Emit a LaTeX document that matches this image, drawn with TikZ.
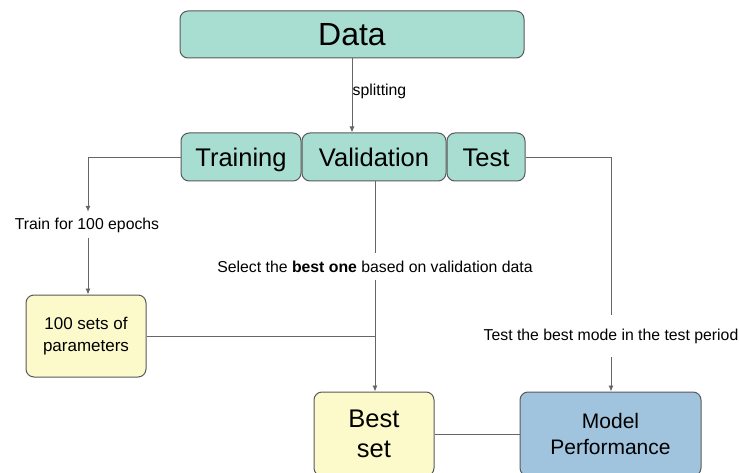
\documentclass[tikz,border=0pt]{standalone}
\usepackage{fontspec}
\setmainfont{Liberation Sans}
\usetikzlibrary{arrows.meta}
\definecolor{tealfill}{HTML}{A8DDD2}
\definecolor{paleyellow}{HTML}{FCF9CA}
\definecolor{paleblue}{HTML}{A0C4DD}
\definecolor{edge}{HTML}{595959}
\definecolor{wire}{HTML}{666666}
\tikzset{
  box/.style={draw=edge, line width=1pt, rounded corners=8pt, inner sep=0pt, align=center},
  tealbox/.style={box, fill=tealfill},
  rowbox/.style={tealbox, minimum height=48, text height=18.3, text depth=0, font=\fontsize{25.5}{30}\selectfont},
  ybox/.style={box, fill=paleyellow},
  bbox/.style={box, fill=paleblue},
  lbl/.style={inner sep=0pt, font=\fontsize{15.8}{18}\selectfont},
  wireline/.style={draw=wire, line width=0.9pt},
  arr/.style={wireline, -{Latex[length=6pt,width=5pt]}},
}
\begin{document}
\begin{tikzpicture}[x=1pt,y=-1pt]
\clip (0,0) rectangle (739,473);
\fill[white] (0,0) rectangle (739,473);
% boxes
\node[tealbox, minimum width=344, minimum height=47, text height=22.7, text depth=0, font=\fontsize{32}{36}\selectfont] (data) at (352,34.5) {Data};
\node[rowbox, minimum width=120] (train) at (241,157) {Training};
\node[rowbox, minimum width=144] (val) at (374,157) {Validation};
\node[rowbox, minimum width=78] (test) at (486,157) {Test};
\node[ybox, minimum width=120, minimum height=82, font=\fontsize{17}{22}\selectfont] (params) at (86,336) {100 sets of\\parameters};
\node[ybox, minimum width=120, minimum height=84, font=\fontsize{25.5}{30}\selectfont] (best) at (374,434) {Best\\set};
\node[bbox, minimum width=181, minimum height=84, font=\fontsize{21}{26}\selectfont] (perf) at (610.5,434) {Model\\Performance};
% labels
\node[lbl, anchor=west] (split) at (352.5,91) {splitting};
\node[lbl, minimum height=26] (trainlbl) at (87,225) {Train for 100 epochs};
\node[lbl, minimum height=27] (sellbl) at (375,266.5) {Select the \textbf{best one} based on validation data};
\node[lbl, minimum height=42] (testlbl) at (611,336) {Test the best mode in the test period};
\coordinate (tcorner) at (88,157);
\coordinate (ecorner) at (611,157);
\coordinate (join) at (375,336);
% connectors
\draw[arr] (data.south) -- (data.south |- val.north);
\draw[arr] (train.west) -- (tcorner) -- (trainlbl.north -| tcorner);
\draw[arr] (trainlbl.south -| tcorner) -- (params.north -| tcorner);
\draw[wireline] (val.south -| join) -- (sellbl.north -| join);
\draw[arr] (sellbl.south -| join) -- (best.north -| join);
\draw[wireline] (params.east) -- (join);
\draw[wireline] (test.east) -- (ecorner) -- (testlbl.north -| ecorner);
\draw[arr] (testlbl.south -| ecorner) -- (perf.north -| ecorner);
\draw[wireline] (best.east) -- (perf.west);
\end{tikzpicture}
\end{document}
